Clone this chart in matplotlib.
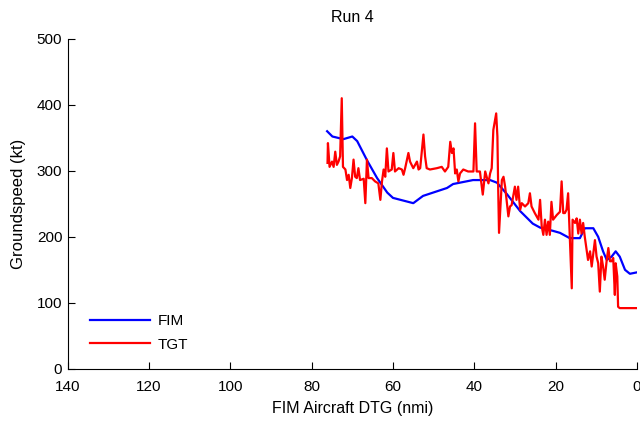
# Groundspeed vs. distance to go, Run 4 (FIM vs TGT)
import matplotlib
matplotlib.use('Agg')
import matplotlib.pyplot as plt

plt.rcParams['font.family'] = ['Liberation Sans', 'DejaVu Sans']

# FIM aircraft (blue)
fim_dtg = [76.2, 74.9, 72.2, 70.0, 68.8, 66.3, 63.9, 61.4, 60.0, 55.0, 52.6,
           46.7, 45.2, 40.3, 36.1, 34.4, 32.0, 28.7, 25.6, 23.8, 20.6, 18.9,
           16.5, 14.0, 12.8, 10.7, 9.5, 8.3, 7.4, 6.2, 5.2, 4.2, 2.9, 1.7, 0.1]
fim_gs = [360, 352, 348, 352, 345, 315, 289, 267, 259, 251, 262,
          274, 280, 286, 286, 282, 265, 239, 220, 214, 209, 206,
          198, 198, 213, 213, 200, 178, 165, 170, 178, 170, 150, 144, 146]

# target aircraft (red)
tgt_dtg = [76.1, 76.0, 75.6, 75.0, 74.6, 74.2, 73.8, 73.4, 73.0, 72.6, 72.3,
           71.7, 71.3, 70.9, 70.5, 70.1, 69.7, 69.3, 68.9, 68.5, 68.1, 67.2,
           66.8, 66.4, 66.0, 65.2, 64.4, 63.6, 63.1, 62.7, 62.3, 61.9, 61.5,
           61.1, 60.3, 59.9, 59.5, 58.6, 57.8, 57.4, 57.0, 56.2, 55.8, 55.0,
           54.1, 53.7, 53.3, 52.5, 52.1, 51.7, 50.9, 49.2, 48.0, 47.2, 46.4,
           45.9, 45.5, 45.1, 44.7, 44.3, 43.9, 43.5, 42.7, 41.5, 40.2, 39.8,
           39.4, 38.6, 37.9, 37.3, 36.5, 36.1, 35.7, 35.3, 34.6, 34.3, 34.1,
           33.9, 33.2, 32.8, 32.4, 31.6, 31.2, 30.8, 30.0, 29.6, 29.2, 28.7,
           28.3, 27.5, 26.7, 26.3, 25.9, 25.1, 24.2, 23.8, 23.4, 23.0, 22.6,
           22.2, 21.8, 21.4, 21.0, 20.6, 19.7, 18.9, 18.5, 18.1, 17.7, 17.3,
           16.9, 16.0, 15.8, 15.2, 14.8, 14.4, 14.0, 13.6, 13.2, 12.8, 12.4,
           12.0, 11.5, 11.1, 10.7, 10.3, 9.9, 9.5, 9.1, 8.7, 8.3, 7.9, 7.4,
           7.0, 6.6, 6.2, 5.8, 5.4, 5.2, 4.8, 4.6, 4.2, 0.1]
tgt_gs = [312, 342, 306, 314, 306, 329, 309, 314, 322, 410, 306,
          302, 286, 294, 274, 289, 317, 291, 289, 304, 286, 288,
          251, 317, 289, 289, 284, 281, 256, 284, 302, 291, 334,
          299, 302, 327, 299, 304, 302, 294, 304, 327, 314, 304,
          314, 302, 304, 355, 322, 304, 302, 304, 306, 299, 306,
          344, 327, 334, 296, 302, 284, 296, 302, 299, 299, 372,
          299, 299, 264, 299, 281, 296, 304, 362, 387, 352, 271,
          206, 286, 291, 276, 231, 246, 248, 276, 256, 276, 241,
          251, 246, 251, 266, 246, 236, 226, 256, 216, 203, 226,
          203, 223, 203, 253, 226, 233, 238, 284, 236, 236, 241,
          266, 122, 226, 221, 228, 205, 226, 205, 221, 200, 183,
          165, 178, 155, 175, 195, 170, 160, 117, 170, 155, 135, 165,
          183, 163, 163, 168, 112, 160, 140, 94, 92, 92]

xticks = [140, 120, 100, 80, 60, 40, 20, 0]
yticks = [0, 100, 200, 300, 400, 500]

fig = plt.figure(figsize=(6.4, 4.22), dpi=100)
ax = fig.add_axes([0.106, 0.126, 0.889, 0.782])

ax.plot(fim_dtg, fim_gs, color='#0000FF', lw=1.6, label='FIM')
ax.plot(tgt_dtg, tgt_gs, color='#FF0000', lw=1.6, label='TGT')

ax.set_xlim(140, 0)
ax.set_ylim(0, 500)
ax.set_xticks(xticks)
ax.set_yticks(yticks)
ax.tick_params(direction='in', length=5, width=0.8, labelsize=11)
ax.tick_params(axis='x', pad=8)
ax.tick_params(axis='y', pad=4)
for s in ['top', 'right']:
    ax.spines[s].set_visible(False)

ax.set_title('Run 4', fontsize=11.5, pad=12)
ax.set_xlabel('FIM Aircraft DTG (nmi)', fontsize=11.5, labelpad=5)
ax.set_ylabel('Groundspeed (kt)', fontsize=12, labelpad=8)

ax.legend(loc='lower left', bbox_to_anchor=(0.015, 0.01), frameon=False,
          fontsize=11, handlelength=3.9, handletextpad=0.5, labelspacing=0.65)

fig.savefig('out.png', dpi=100)
